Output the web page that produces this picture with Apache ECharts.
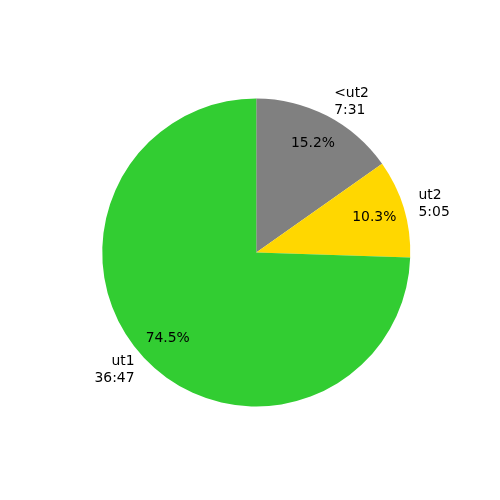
<!DOCTYPE html>
<html>
<head>
<meta charset="utf-8">
<script src="https://cdn.jsdelivr.net/npm/echarts@6/dist/echarts.min.js"></script>
<style>html,body{margin:0;padding:0;background:#fff;}#c{width:500px;height:500px;}</style>
</head>
<body>
<div id="c"></div>
<script>
var categories = ['<ut2', 'ut2', 'ut1'];
var times = ['7:31', '5:05', '36:47'];
var colors = ['#808080', '#FFD700', '#32CD32'];

function toSeconds(t) { var p = t.split(':'); return (+p[0]) * 60 + (+p[1]); }

var R = 154;
var center = [256.25, 252.5];
var font = 'DejaVu Sans';
var pctDistance = 0.8;

var baseData = categories.map(function (c, i) {
  return { name: c, value: toSeconds(times[i]), time: times[i], itemStyle: { color: colors[i] } };
});
var pctData = categories.map(function (c, i) {
  return { name: c, value: toSeconds(times[i]), itemStyle: { color: 'rgba(0,0,0,0)' } };
});

var chart = echarts.init(document.getElementById('c'), null, { renderer: 'canvas' });
chart.setOption({
  animation: false,
  backgroundColor: '#ffffff',
  series: [
    {
      type: 'pie',
      center: center,
      radius: [0, R],
      startAngle: 90,
      clockwise: true,
      avoidLabelOverlap: false,
      silent: true,
      data: baseData,
      label: {
        show: true,
        position: 'outside',
        distanceToLabelLine: 0,
        fontFamily: font,
        fontSize: 13.9,
        lineHeight: 17,
        color: '#000',
        formatter: function (p) { return p.name + '\n' + p.data.time; }
      },
      labelLine: { show: false, length: R * 0.1, length2: 0 }
    },
    {
      type: 'pie',
      center: center,
      radius: [0, 2 * (R * pctDistance - 3)],
      startAngle: 90,
      clockwise: true,
      avoidLabelOverlap: false,
      silent: true,
      percentPrecision: 1,
      data: pctData,
      label: {
        show: true,
        position: 'inside',
        fontFamily: font,
        fontSize: 13.9,
        color: '#000',
        formatter: function (p) { return p.percent.toFixed(1) + '%'; }
      },
      labelLine: { show: false }
    }
  ]
});
</script>
</body>
</html>
